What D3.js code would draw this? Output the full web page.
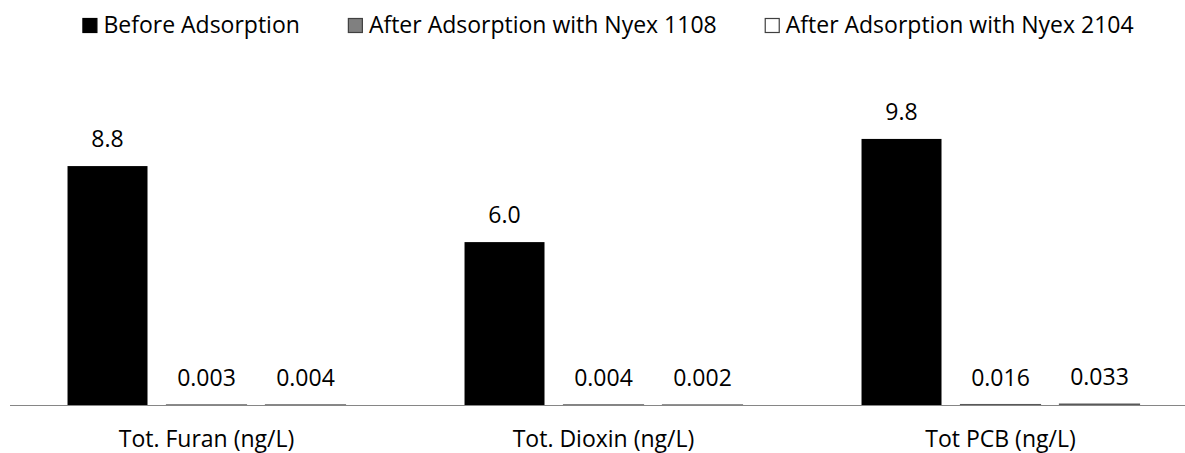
<!DOCTYPE html>
<html>
<head>
<meta charset="utf-8">
<script src="https://cdn.jsdelivr.net/npm/d3@7"></script>
<style>
  body { margin: 0; background: #fff; }
  svg { display: block; font-family: "Open Sans", sans-serif; }
</style>
</head>
<body>
<svg id="chart" width="1185" height="453"></svg>
<script>
var width = 1185;
var height = 453;

var categories = ["Tot. Furan (ng/L)", "Tot. Dioxin (ng/L)", "Tot PCB (ng/L)"];
var seriesNames = ["Before Adsorption", "After Adsorption with Nyex 1108", "After Adsorption with Nyex 2104"];
var before = [8.8, 6.0, 9.8];
var nyex1108 = [0.003, 0.004, 0.016];
var nyex2104 = [0.004, 0.002, 0.033];
var seriesFill = ["#000000", "#808080", "#ffffff"];
var seriesStroke = ["#000000", "#595959", "#595959"];

var seriesValues = [before, nyex1108, nyex2104];
var baseline = 405;
var fontSize = 23;

var svg = d3.select("#chart");

var x0 = d3.scaleBand()
    .domain(categories)
    .range([8, 1199])
    .paddingInner(0.252)
    .paddingOuter(0.126);

var x1 = d3.scaleBand()
    .domain(d3.range(seriesNames.length))
    .range([0, x0.bandwidth()])
    .paddingInner(0.192)
    .paddingOuter(0.096);

var y = d3.scaleLinear()
    .domain([0, 10])
    .range([baseline, baseline - 271.5]);

function fmt(v) {
    return v >= 1 ? v.toFixed(1) : v.toFixed(3);
}

// flatten into bar records
var bars = [];
categories.forEach(function(c, ci) {
    seriesValues.forEach(function(vals, si) {
        bars.push({cat: c, s: si, v: vals[ci]});
    });
});

var g = svg.append("g");

g.selectAll("rect.bar")
    .data(bars)
    .join("rect")
    .attr("class", "bar")
    .attr("x", d => x0(d.cat) + x1(d.s))
    .attr("width", x1.bandwidth())
    .attr("y", d => y(d.v))
    .attr("height", d => baseline - y(d.v))
    .attr("fill", d => seriesFill[d.s])
    .attr("stroke", d => seriesStroke[d.s])
    .attr("stroke-width", d => d.s === 0 ? 0 : 1.2);

// axis line
svg.append("line")
    .attr("x1", 10)
    .attr("x2", width)
    .attr("y1", baseline + 0.5)
    .attr("y2", baseline + 0.5)
    .attr("stroke", "#868686")
    .attr("stroke-width", 1.2);

// value labels
g.selectAll("text.val")
    .data(bars)
    .join("text")
    .attr("class", "val")
    .attr("x", d => x0(d.cat) + x1(d.s) + x1.bandwidth() / 2)
    .attr("y", d => y(d.v) - 19)
    .attr("text-anchor", "middle")
    .attr("font-size", fontSize)
    .attr("fill", "#000")
    .text(d => fmt(d.v));

// category labels
svg.selectAll("text.cat")
    .data(categories)
    .join("text")
    .attr("class", "cat")
    .attr("x", d => x0(d) + x0.bandwidth() / 2)
    .attr("y", 447)
    .attr("text-anchor", "middle")
    .attr("font-size", fontSize)
    .attr("fill", "#000")
    .text(d => d);

// legend
var legend = svg.append("g");
var items = legend.selectAll("g")
    .data(seriesNames)
    .join("g");

items.append("rect")
    .attr("x", 0.5)
    .attr("y", 18.5)
    .attr("width", 14)
    .attr("height", 14)
    .attr("fill", (d, i) => seriesFill[i])
    .attr("stroke", (d, i) => i === 0 ? "#000" : "#404040")
    .attr("stroke-width", 1.2);

items.append("text")
    .attr("x", 21)
    .attr("y", 33)
    .attr("font-size", fontSize)
    .attr("fill", "#000")
    .text(d => d);

var gap = 48;
var offsets = [];
var cursor = 0;
items.each(function() {
    offsets.push(cursor);
    var w = d3.select(this).select("text").node().getComputedTextLength();
    cursor += 21 + w + gap;
});
var total = cursor - gap;
var start = 608 - total / 2;
items.attr("transform", (d, i) => "translate(" + (start + offsets[i]) + ",0)");
</script>
</body>
</html>
